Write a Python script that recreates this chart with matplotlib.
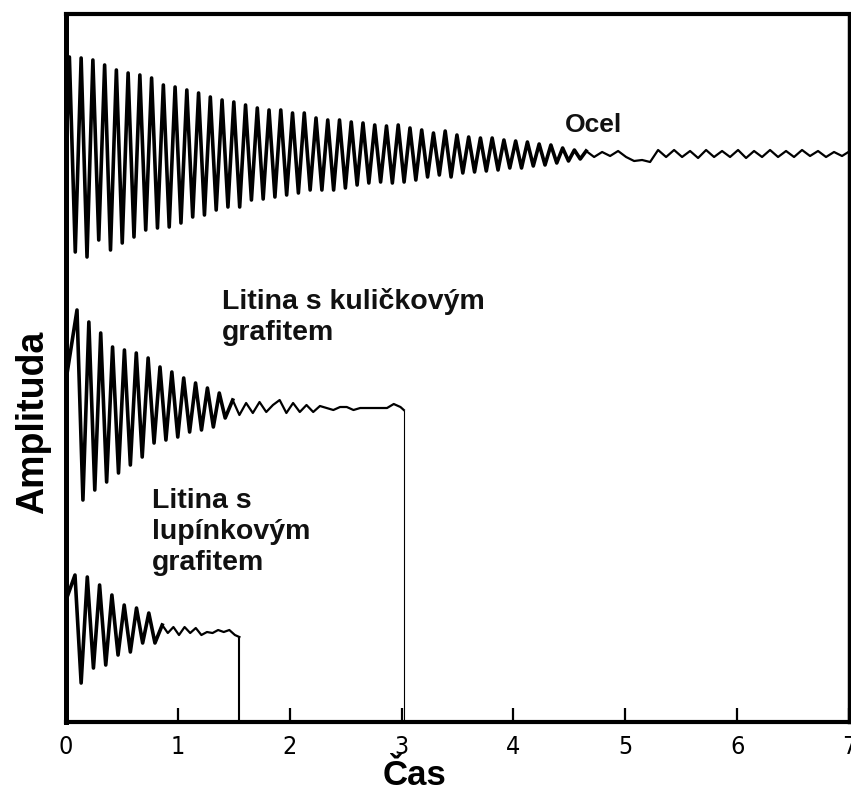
import numpy as np
import matplotlib
matplotlib.use("Agg")
import matplotlib.pyplot as plt

# amplitude is in screen-like units: 0 at the time axis, 708 at the top frame
# Ocel: alternating crest / trough of the ringing part, then the small ripple tail
ocel_start = 567
ocel_peaks = [665, 470, 664, 465, 662, 482, 657, 472, 652, 479, 649, 485,
              647, 492, 644, 494, 637, 495, 635, 499, 632, 505, 629, 507,
              625, 512, 622, 515, 620, 515, 617, 522, 614, 523, 612, 525,
              612, 527, 609, 529, 609, 532, 604, 532, 602, 532, 602, 534,
              600, 537, 599, 539, 597, 540, 596, 539, 597, 540, 594, 542,
              592, 545, 589, 547, 591, 545, 587, 549, 585, 550, 584, 551,
              584, 552, 582, 554, 581, 554, 580, 556, 578, 557, 577, 559,
              574, 561, 572, 563]
ocel_tail = [571, 565, 570, 566, 571, 565, 561, 562, 560, 572, 565, 572,
             565, 571, 564, 572, 565, 571, 565, 572, 564, 571, 565, 572,
             565, 571, 565, 572, 566, 571, 565, 570, 566, 571]

# Litina s kuličkovým grafitem
kul_start = 342
kul_peaks = [412, 222, 400, 232, 389, 240, 375, 249, 372, 257, 369, 265,
             364, 279, 355, 282, 350, 285, 344, 290, 339, 292, 334, 295,
             329, 304]
kul_tail = [322, 307, 319, 309, 320, 310, 317, 322, 309, 319, 310, 317,
            310, 316, 314, 312, 315, 315, 312, 314, 314, 314, 314, 314,
            318, 315]
kul_end = (3.02, 312)

# Litina s lupínkovým grafitem
lup_start = 122
lup_peaks = [147, 39, 145, 54, 137, 57, 127, 67, 117, 70, 114, 79, 109, 79]
lup_tail = [97, 89, 95, 87, 95, 89, 94, 87, 90, 89, 92, 90, 92, 87]
lup_end = (1.55, 85)

xticks = [0, 1, 2, 3, 4, 5, 6, 7]


def trace(start, peaks, t_peak, dt_peak, tail, t_tail, dt_tail, end=None):
    t = [0.0]
    y = [start]
    t += list(t_peak + dt_peak * np.arange(len(peaks)))
    y += peaks
    t += list(t_tail + dt_tail * np.arange(len(tail)))
    y += tail
    if end is not None:
        t.append(end[0])
        y.append(end[1])
    return np.array(t), np.array(y)


fig = plt.figure(figsize=(8.51, 7.95), dpi=100)
ax = fig.add_axes([0.0776, 0.0918, 0.92, 0.8906])

t, y = trace(ocel_start, ocel_peaks, 0.03, 0.0525, ocel_tail, 4.65, 0.0715)
n = len(ocel_peaks) + 1
ax.plot(t[:n + 1], y[:n + 1], color="black", lw=2.6)
ax.plot(t[n:], y[n:], color="black", lw=1.6)

t, y = trace(kul_start, kul_peaks, 0.098, 0.053, kul_tail, 1.49, 0.06, kul_end)
n = len(kul_peaks) + 1
ax.plot(t[:n + 1], y[:n + 1], color="black", lw=2.6)
ax.plot(t[n:], y[n:], color="black", lw=1.6)
ax.vlines(kul_end[0], 0, kul_end[1], color="black", lw=0.8)

t, y = trace(lup_start, lup_peaks, 0.08, 0.055, lup_tail, 0.86, 0.05, lup_end)
n = len(lup_peaks) + 1
ax.plot(t[:n + 1], y[:n + 1], color="black", lw=2.6)
ax.plot(t[n:], y[n:], color="black", lw=1.6)
ax.vlines(lup_end[0], 0, lup_end[1], color="black", lw=1.5)

lab = dict(fontweight="bold", family="Liberation Sans",
           color="#111111", linespacing=1.25)
ax.text(4.46, 597, "Ocel", va="center", ha="left", fontsize=19, **lab)
ax.text(1.395, 434, "Litina s kuličkovým\ngrafitem", va="top", ha="left",
        fontsize=20.5, **lab)
ax.text(0.77, 234, "Litina s\nlupínkovým\ngrafitem", va="top", ha="left",
        fontsize=20.5, **lab)

ax.set_xlim(0, 7)
ax.set_ylim(0, 708)
ax.set_yticks([])
ax.set_xticks(xticks)
ax.set_xticklabels([str(v) for v in xticks], family="DejaVu Sans",
                   fontstretch="condensed", fontsize=18)
ax.tick_params(axis="x", direction="in", length=10, width=1.6, pad=9)

for side, w in [("left", 3.6), ("bottom", 3.0), ("top", 3.0), ("right", 2.5)]:
    ax.spines[side].set_linewidth(w)

fig.text(0.039, 0.469, "Amplituda", rotation=90, ha="center", va="center",
         fontsize=27, fontweight="bold", family="Liberation Sans")
fig.text(0.487, 0.025, "Čas", ha="center", va="center",
         fontsize=25, fontweight="bold", family="Liberation Sans")

fig.savefig("out.png", dpi=100)
